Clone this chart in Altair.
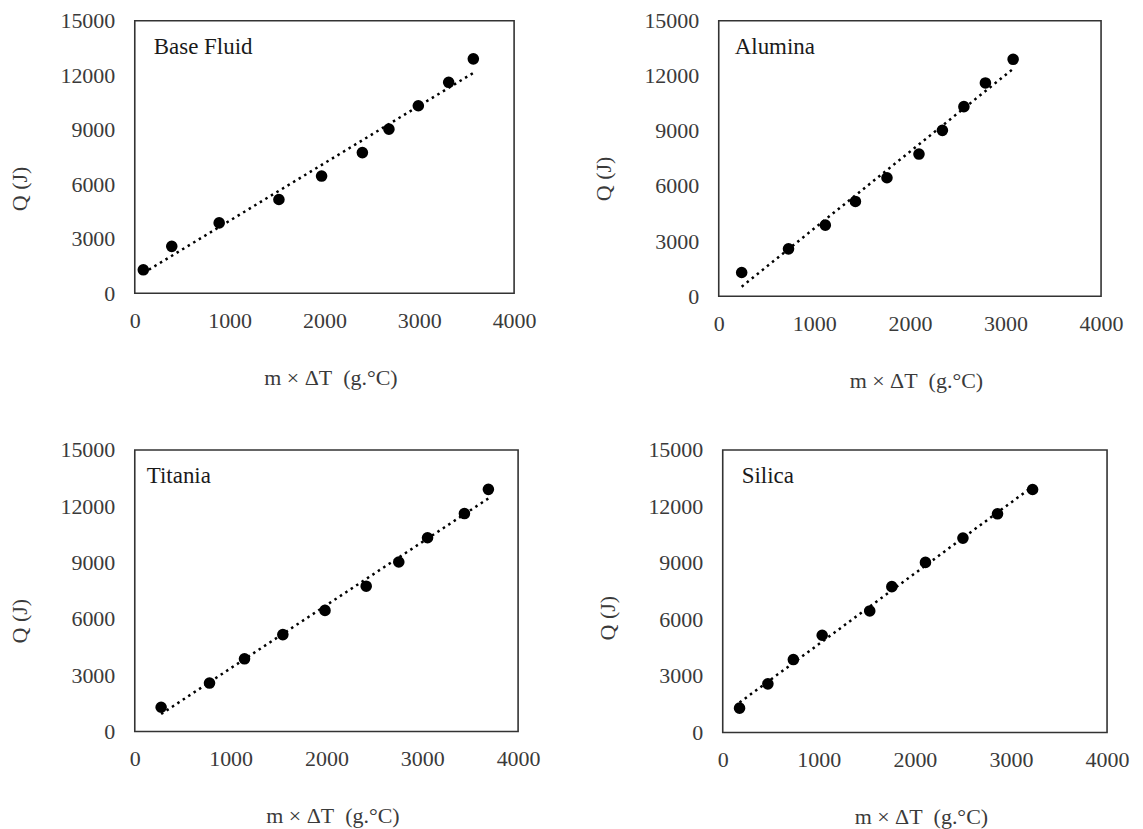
import altair as alt
import pandas as pd

# Data
q_values = [1290, 2580, 3870, 5160, 6450, 7740, 9030, 10320, 11610, 12900]
base_fluid_x = [90, 390, 890, 1520, 1970, 2400, 2680, 2990, 3310, 3570]
alumina_x = [240, 730, 1115, 1430, 1760, 2095, 2340, 2565, 2790, 3080]
titania_x = [275, 780, 1145, 1545, 1985, 2415, 2755, 3055, 3440, 3690]
silica_x = [175, 470, 735, 1035, 1530, 1760, 2110, 2500, 2860, 3225]

x_ticks = [0, 1000, 2000, 3000, 4000]
y_ticks = [0, 3000, 6000, 9000, 12000, 15000]

FONT = "Liberation Serif"
TXT = "#3a3a3a"


def panel(name, xs, w, h, title_y, label_dx):
    df = pd.DataFrame({"x": xs, "y": q_values})
    xenc = alt.X(
        "x:Q",
        scale=alt.Scale(domain=[0, 4000], nice=False),
        axis=alt.Axis(
            values=x_ticks,
            format="d",
            title="m × ΔT\u00a0 (g.°C)",
            labelPadding=17,
            titlePadding=36,
            titleX=w / 2 + 6,
            labelFlush=False,
            labelOverlap=False,
        ),
    )
    yenc = alt.Y(
        "y:Q",
        scale=alt.Scale(domain=[0, 15000], nice=False),
        axis=alt.Axis(
            values=y_ticks,
            format="d",
            title="Q (J)",
            labelPadding=20,
            titlePadding=28,
            titleY=title_y,
            labelFlush=False,
            labelOverlap=False,
        ),
    )
    base = alt.Chart(df)
    trend = (
        base.transform_regression("x", "y")
        .mark_line(color="black", strokeWidth=2.5, strokeDash=[2.5, 4])
        .encode(x=xenc, y=yenc)
    )
    pts = base.mark_circle(color="black", opacity=1, size=135).encode(x=xenc, y=yenc)
    lab = (
        alt.Chart(pd.DataFrame({"label": [name]}))
        .mark_text(align="left", baseline="middle", font=FONT, fontSize=23, color="#1a1a1a")
        .encode(x=alt.value(label_dx), y=alt.value(26), text="label:N")
    )
    return alt.layer(trend, pts, lab).properties(width=w, height=h)


p1 = panel("Base Fluid", base_fluid_x, 380, 273, 168, 19)
p2 = panel("Alumina", alumina_x, 383, 276, 158, 16)
p3 = panel("Titania", titania_x, 384, 282, 171, 12)
p4 = panel("Silica", silica_x, 385, 283, 168, 19)

chart = (
    alt.vconcat(
        alt.hconcat(p1, p2, spacing=55),
        alt.hconcat(p3, p4, spacing=55),
        spacing=46,
    )
    .properties(padding={"left": 0, "top": 0, "right": 5, "bottom": 0}, background="white")
    .configure_view(stroke="#333333", strokeWidth=1.6)
    .configure_axis(
        domain=False,
        ticks=False,
        grid=False,
        labelFont=FONT,
        labelFontSize=22,
        labelColor=TXT,
        titleFont=FONT,
        titleFontSize=22,
        titleFontWeight="normal",
        titleColor=TXT,
    )
)

chart.save("out.html", embed_options={"renderer": "svg", "actions": False})
